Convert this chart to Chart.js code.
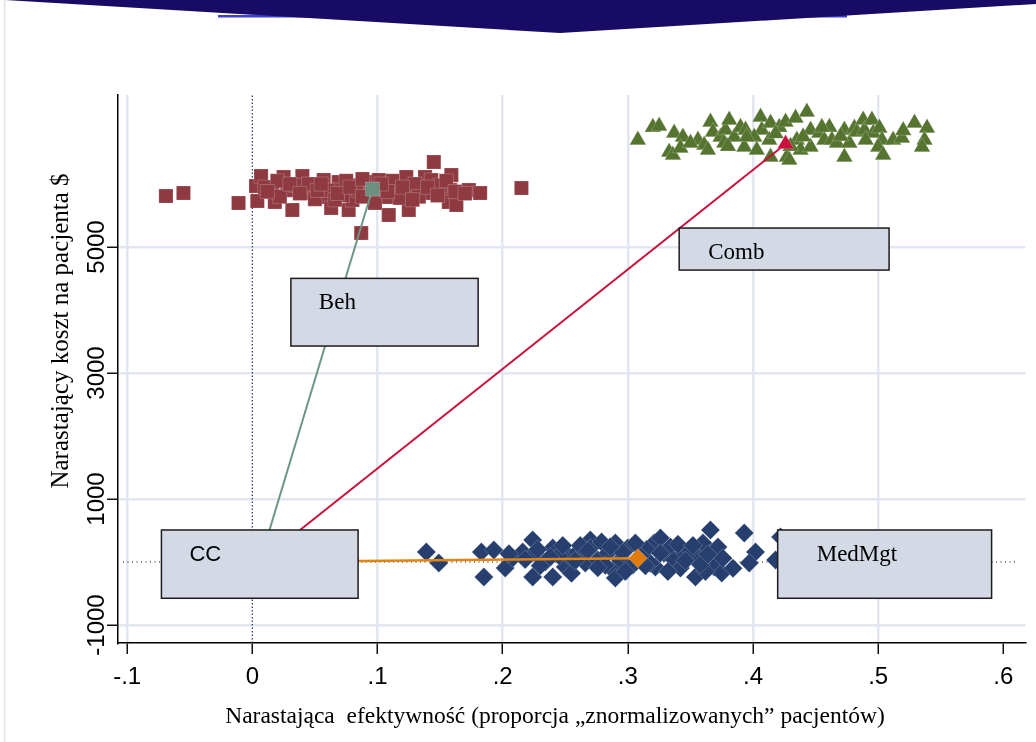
<!DOCTYPE html>
<html>
<head>
<meta charset="utf-8">
<script src="https://cdn.jsdelivr.net/npm/chart.js@4/dist/chart.umd.min.js"></script>
<style>
  html, body { margin: 0; padding: 0; background: #ffffff; }
  #wrap { position: relative; width: 1036px; height: 742px; overflow: hidden; }
  #c { position: absolute; left: 0; top: 0; }
  #deco { position: absolute; left: 0; top: 0; pointer-events: none; }
</style>
</head>
<body>
<div id="wrap">
  <canvas id="c" width="1036" height="742"></canvas>
  <svg id="deco" width="1036" height="742">
    <line x1="4.5" y1="0" x2="4.5" y2="742" stroke="#e4e4e6" stroke-width="1.5"/>
    <rect x="218" y="15" width="629" height="2.5" fill="#3d3fd0"/>
    <polygon points="5,0 1036,0 1036,4 560,33" fill="#170b66"/>
  </svg>
</div>
<script>
// Axis ticks
const xTickValues = [-0.1, 0, 0.1, 0.2, 0.3, 0.4, 0.5, 0.6];
const xTickLabels = ['-.1', '0', '.1', '.2', '.3', '.4', '.5', '.6'];
const yTickValues = [-1000, 1000, 3000, 5000];
const yTickLabels = ['-1000', '1000', '3000', '5000'];

// Bootstrap replicates: incremental effect (x) and incremental cost (y)
const behX = [-0.069, -0.055, -0.011, 0.003, 0.007, 0.004, 0.016, 0.018, 0.025, 0.032, 0.028, 0.040, 0.043, 0.048, 0.057, 0.057,
  0.063, 0.069, 0.069, 0.077, 0.080, 0.085, 0.087, 0.091, 0.101, 0.107, 0.109, 0.115, 0.123, 0.125, 0.127, 0.135, 0.138, 0.145,
  0.143, 0.141, 0.159, 0.158, 0.157, 0.163, 0.173, 0.182, 0.215,
  0.010, 0.022, 0.035, 0.050, 0.060, 0.072, 0.083, 0.095, 0.105, 0.118, 0.130, 0.150, 0.020, 0.045, 0.075, 0.112, 0.133, 0.155, 0.066, 0.098,
  0.012, 0.030, 0.038, 0.052, 0.055, 0.068, 0.078, 0.088, 0.108, 0.120, 0.128, 0.140, 0.148, 0.162, 0.170, 0.103, 0.088];
const behY = [5809, 5857, 5698, 5968, 6126, 5730, 5873, 5714, 6111, 5587, 5904, 6126, 5857, 5952, 6063, 5793,
  5619, 6031, 5904, 5587, 5746, 5904, 5222, 6031, 6063, 5793, 5508, 5904, 6111, 5587, 5857, 5952, 6111, 6349,
  6063, 5857, 6142, 5904, 5714, 5666, 5904, 5857, 5936,
  5950, 5800, 5980, 5760, 5900, 5820, 5980, 5850, 5950, 5780, 6000, 5980, 6050, 6000, 6050, 6050, 5800, 6050, 5750, 5700,
  5880, 6000, 5850, 5900, 6000, 5850, 5950, 5800, 5880, 5950, 5750, 5950, 5820, 5880, 5850, 6000, 6080];

const combX = [0.308, 0.320, 0.325, 0.337, 0.344, 0.333, 0.336, 0.342, 0.356, 0.361, 0.366, 0.368, 0.364, 0.374, 0.378, 0.381,
  0.377, 0.385, 0.390, 0.393, 0.394, 0.406, 0.407, 0.401, 0.403, 0.414, 0.413, 0.414, 0.421, 0.426, 0.427, 0.429, 0.434, 0.435,
  0.438, 0.443, 0.446, 0.446, 0.453, 0.457, 0.461, 0.463, 0.467, 0.473, 0.473, 0.477, 0.481, 0.483, 0.488, 0.489, 0.495, 0.496,
  0.501, 0.503, 0.500, 0.504, 0.512, 0.519, 0.529, 0.539, 0.537, 0.535,
  0.350, 0.395, 0.418, 0.440, 0.470, 0.455, 0.380, 0.430, 0.490, 0.520];
const combY = [6697, 6903, 6919, 6808, 6745, 6507, 6459, 6570, 6697, 6618, 6983, 6824, 6538, 6745, 6856, 7015,
  6650, 6745, 6903, 6586, 6856, 7062, 6856, 6745, 6538, 6967, 6697, 6427, 6903, 6983, 6427, 6380, 7046, 6697,
  6538, 7142, 6856, 6586, 6808, 6697, 6903, 6697, 6650, 6856, 6427, 6650, 6888, 6824, 7015, 6856, 7015, 6808,
  6888, 6697, 6586, 6459, 6697, 6729, 6967, 6888, 6697, 6586,
  6650, 6750, 6800, 6750, 6760, 6900, 6600, 6600, 6700, 6850];

const medX = [0.139, 0.149, 0.183, 0.193, 0.185, 0.202, 0.208, 0.216, 0.224, 0.226, 0.224, 0.234, 0.240, 0.240, 0.250, 0.252,
  0.260, 0.266, 0.270, 0.270, 0.276, 0.279, 0.284, 0.290, 0.288, 0.290, 0.294, 0.300, 0.304, 0.321, 0.322, 0.326, 0.329, 0.334,
  0.337, 0.342, 0.345, 0.354, 0.357, 0.360, 0.366, 0.368, 0.369, 0.372, 0.375, 0.393, 0.402, 0.397, 0.422, 0.418,
  0.245, 0.262, 0.282, 0.296, 0.315, 0.318, 0.350, 0.362, 0.340, 0.310, 0.255, 0.230,
  0.205, 0.218, 0.228, 0.238, 0.248, 0.258, 0.268, 0.276, 0.286, 0.298, 0.306, 0.314, 0.326, 0.332, 0.346, 0.352, 0.358, 0.364, 0.376, 0.384];
const medY = [159, -16, 159, 190, -238, -95, 63, 159, 349, 143, -238, 0, 222, -238, -79, 111,
  159, -16, 349, 222, 32, 317, 143, 302, -127, -254, 32, 222, -48, 302, -79, 381, 143, 238,
  32, -95, 143, -238, 79, 302, 508, 143, -79, 238, -175, 460, 159, -16, 397, 32,
  100, 260, -50, 150, 200, -20, 180, -150, 280, 90, -180, -60,
  130, 40, 200, 80, 260, 20, 180, -90, 240, -150, 300, -60, 140, -150, 20, 260, -40, 120, 60, -100];

// Strategy means (CC is the reference strategy)
const strategies = ['CC', 'Beh', 'Comb', 'MedMgt'];
const meanX = [0.006, 0.096, 0.426, 0.308];
const meanY = [0, 5920, 6635, 59];

const pts = (xs, ys) => xs.map((x, i) => ({ x, y: ys[i] }));
const seg = (i) => [{ x: meanX[0], y: meanY[0] }, { x: meanX[i], y: meanY[i] }];

const SERIF = '"Liberation Serif", "Times New Roman", serif';
const SANS = '"Liberation Sans", Arial, sans-serif';

// Labelled boxes, placed in data units
const labelBoxes = [
  { text: 'CC',     x0: -0.0726, x1: 0.0845, yTop: 508,  yBot: -576, pad: 28, font: '22px ' + SANS },
  { text: 'Beh',    x0: 0.0308,  x1: 0.1804, yTop: 4502, yBot: 3428, pad: 28, font: '23px ' + SERIF },
  { text: 'Comb',   x0: 0.341,   x1: 0.5087, yTop: 5301, yBot: 4634, pad: 29, font: '23px ' + SERIF },
  { text: 'MedMgt', x0: 0.4197,  x1: 0.5906, yTop: 508,  yBot: -576, pad: 39, font: '23px ' + SERIF }
];

const annotate = {
  id: 'annotate',
  afterDatasetsDraw(chart) {
    const { ctx, scales: { x, y } } = chart;
    ctx.save();
    labelBoxes.forEach(b => {
      const l = x.getPixelForValue(b.x0), r = x.getPixelForValue(b.x1);
      const t = y.getPixelForValue(b.yTop), bt = y.getPixelForValue(b.yBot);
      ctx.fillStyle = '#d3d9e5';
      ctx.fillRect(l, t, r - l, bt - t);
      ctx.lineWidth = 1.5;
      ctx.strokeStyle = '#1c1c1c';
      ctx.strokeRect(l, t, r - l, bt - t);
      ctx.fillStyle = '#000';
      ctx.font = b.font;
      ctx.textAlign = 'left';
      ctx.textBaseline = 'alphabetic';
      ctx.fillText(b.text, l + b.pad, t + 31);
    });
    ctx.restore();
  },
  afterDraw(chart) {
    const { ctx, scales: { x, y } } = chart;
    ctx.save();
    ctx.fillStyle = '#000';
    // vertical tick labels on the cost axis
    ctx.font = '24px ' + SANS;
    ctx.textAlign = 'center';
    ctx.textBaseline = 'alphabetic';
    y.ticks.forEach((tk, i) => {
      const py = y.getPixelForValue(tk.value);
      ctx.save();
      ctx.translate(y.right - 14, py);
      ctx.rotate(-Math.PI / 2);
      ctx.fillText(yTickLabels[i], 0, 0);
      ctx.restore();
    });
    // axis titles
    ctx.font = '25px ' + SERIF;
    ctx.save();
    ctx.translate(68, 331);
    ctx.rotate(-Math.PI / 2);
    ctx.fillText('Narastający koszt na pacjenta $', 0, 0);
    ctx.restore();
    ctx.font = '23.5px ' + SERIF;
    ctx.fillText('Narastająca  efektywność (proporcja \u201Eznormalizowanych\u201D pacjentów)', 555, 723);
    ctx.restore();
  }
};

const markerEdge = 'rgba(255,255,255,0.35)';

new Chart(document.getElementById('c'), {
  type: 'scatter',
  data: {
    datasets: [
      { label: 'Beh', data: pts(behX, behY), pointStyle: 'rect', pointRadius: 10,
        backgroundColor: '#8e3a40', borderColor: markerEdge, borderWidth: 0.6, order: 3 },
      { label: 'Comb', data: pts(combX, combY), pointStyle: 'triangle', pointRadius: 9.5,
        backgroundColor: '#55742f', borderColor: markerEdge, borderWidth: 0.6, order: 3 },
      { label: 'MedMgt', data: pts(medX, medY), pointStyle: 'rectRot', pointRadius: 9.5,
        backgroundColor: '#263f6e', borderColor: markerEdge, borderWidth: 0.6, order: 3 },
      { label: 'CC-Beh', data: seg(1), showLine: true, pointRadius: 0, borderColor: '#6e9684', borderWidth: 2, order: 2 },
      { label: 'CC-Comb', data: seg(2), showLine: true, pointRadius: 0, borderColor: '#c9103a', borderWidth: 2, order: 2 },
      { label: 'CC-MedMgt', data: seg(3), showLine: true, pointRadius: 0, borderColor: '#e3840f', borderWidth: 2.5, order: 2 },
      { label: 'means', data: [1, 2, 3].map(i => ({ x: meanX[i], y: meanY[i] })),
        pointStyle: ['rect', 'triangle', 'rectRot'], pointRadius: [10, 9.5, 9.5],
        backgroundColor: ['#6d8f80', '#c8103c', '#e07b0c'], borderColor: markerEdge, borderWidth: 0.6, order: 1 },
      { label: 'zero cost', data: [{ x: -0.1033, y: 0 }, { x: 0.6105, y: 0 }], showLine: true, pointRadius: 0,
        borderColor: '#000', borderWidth: 1, borderDash: [1, 3.5], order: 5 },
      { label: 'zero effect', data: [{ x: 0, y: -1286 }, { x: 0, y: 7413 }], showLine: true, pointRadius: 0,
        borderColor: '#2a2f55', borderWidth: 1.2, borderDash: [1.5, 2], order: 5 }
    ]
  },
  options: {
    responsive: false,
    animation: false,
    devicePixelRatio: 1,
    layout: { padding: { left: 78, right: 6, top: 95, bottom: 9 } },
    plugins: { legend: { display: false }, tooltip: { enabled: false } },
    scales: {
      x: {
        type: 'linear', position: 'bottom', min: -0.1073, max: 0.6176,
        afterBuildTicks: s => { s.ticks = xTickValues.map(v => ({ value: v })); },
        afterFit: s => { s.height = 90; },
        ticks: { autoSkip: false, maxRotation: 0, minRotation: 0, padding: 9, color: '#000',
          font: { family: SANS, size: 24 }, callback: (v, i) => xTickLabels[i] },
        grid: { color: c => (c.index === 1 || c.index === 7) ? 'rgba(0,0,0,0)' : '#e1e6f0',
          lineWidth: 2.5, drawTicks: true, tickLength: 11, tickColor: '#111', tickWidth: 1.5 },
        border: { display: true, color: '#000', width: 1.5 }
      },
      y: {
        type: 'linear', position: 'left', min: -1286, max: 7413,
        afterBuildTicks: s => { s.ticks = yTickValues.map(v => ({ value: v })); },
        afterFit: s => { s.width = 40; },
        ticks: { display: false },
        grid: { color: '#e1e6f0', lineWidth: 2.5, drawTicks: true, tickLength: 11, tickColor: '#111', tickWidth: 1.5 },
        border: { display: true, color: '#000', width: 1.5 }
      }
    }
  },
  plugins: [annotate]
});
</script>
</body>
</html>
